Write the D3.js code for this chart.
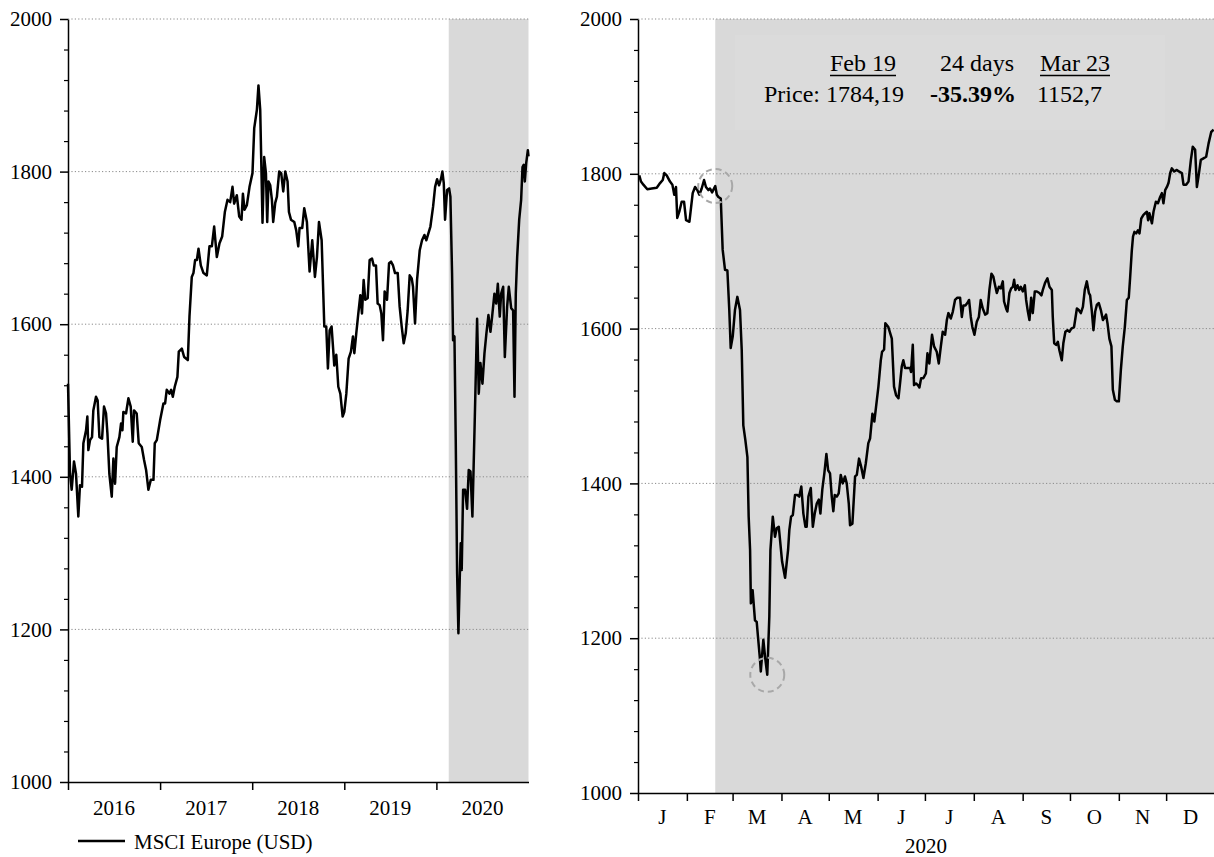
<!DOCTYPE html>
<html><head><meta charset="utf-8">
<script src="https://cdn.jsdelivr.net/npm/d3@7"></script>
<style>
body{margin:0;background:#fff}
svg{display:block}
text{font-family:"Liberation Serif","Times New Roman",serif;fill:#000}
</style>
</head><body>
<svg id="chart" width="1214" height="857"></svg>
<script>
// ---------- DATA ----------
// Left panel: MSCI Europe (USD), x in years since 2016-01-01
const leftYear = [0.000,0.022,0.040,0.065,0.087,0.112,0.130,0.152,0.167,0.196,0.210,0.221,0.239,0.261,0.275,0.304,0.322,0.341,0.370,0.391,0.413,0.428,0.449,0.475,0.493,0.511,0.529,0.558,0.576,0.591,0.601,0.630,0.656,0.681,0.703,0.717,0.746,0.768,0.801,0.826,0.848,0.873,0.899,0.928,0.942,0.964,
1.000,1.036,1.054,1.072,1.101,1.120,1.138,1.159,1.188,1.203,1.236,1.261,1.301,1.319,1.344,1.362,1.380,1.399,1.417,1.442,1.471,1.507,1.536,1.562,1.587,1.616,1.645,1.674,1.703,1.732,1.761,1.786,1.804,1.833,1.859,1.884,1.899,1.917,1.942,1.971,
2.003,2.022,2.051,2.068,2.087,2.112,2.130,2.149,2.163,2.177,2.196,2.214,2.228,2.250,2.268,2.293,2.315,2.337,2.359,2.384,2.399,2.421,2.457,2.478,2.500,2.514,2.543,2.565,2.594,2.623,2.652,2.681,2.703,2.725,2.754,2.783,2.804,2.822,2.841,2.862,2.891,2.913,2.935,2.957,2.982,
3.000,3.022,3.047,3.072,3.094,3.109,3.130,3.152,3.174,3.192,3.210,3.228,3.254,3.275,3.301,3.319,3.344,3.362,3.384,3.402,3.420,3.438,3.464,3.486,3.507,3.529,3.551,3.580,3.601,3.623,3.645,3.667,3.688,3.710,3.732,3.746,3.768,3.790,3.819,3.844,3.870,3.891,3.913,3.935,3.964,3.986,
4.007,4.029,4.051,4.065,4.080,4.094,4.116,4.138,4.152,4.170,4.181,4.196,4.210,4.225,4.239,4.254,4.264,4.275,4.290,4.312,4.333,4.351,4.370,4.391,4.413,4.442,4.460,4.478,4.500,4.522,4.543,4.565,4.587,4.605,4.630,4.649,4.667,4.688,4.703,4.725,4.743,4.768,4.786,4.812,4.833,4.848,4.862,4.877,4.899,4.920,4.935,4.949,4.960,4.975,4.993,5.000];
const leftValue = [1522,1404,1383,1420,1404,1348,1389,1387,1444,1461,1479,1435,1448,1452,1487,1505,1500,1452,1450,1492,1483,1457,1404,1374,1424,1391,1439,1452,1470,1461,1485,1483,1503,1492,1446,1487,1483,1444,1439,1422,1409,1383,1396,1396,1444,1448,
1474,1496,1496,1514,1509,1514,1505,1518,1531,1564,1568,1557,1553,1610,1662,1667,1684,1684,1699,1677,1667,1664,1702,1702,1728,1688,1706,1715,1747,1763,1760,1780,1758,1769,1741,1737,1771,1750,1756,1780,
1798,1857,1881,1913,1881,1733,1819,1798,1734,1787,1782,1763,1734,1759,1767,1800,1798,1774,1800,1787,1747,1737,1734,1723,1702,1726,1726,1752,1734,1669,1710,1662,1688,1734,1710,1597,1597,1542,1592,1597,1546,1560,1518,1509,1479,
1485,1509,1555,1564,1584,1562,1588,1614,1638,1614,1658,1632,1634,1684,1686,1677,1677,1627,1625,1614,1579,1643,1632,1680,1682,1677,1667,1667,1623,1597,1575,1588,1618,1664,1660,1649,1601,1658,1697,1710,1717,1710,1719,1728,1754,1780,
1790,1782,1791,1800,1785,1737,1776,1778,1767,1667,1579,1584,1448,1273,1195,1269,1313,1278,1383,1383,1358,1409,1407,1348,1457,1607,1509,1549,1522,1562,1588,1612,1590,1610,1640,1627,1653,1610,1640,1649,1557,1623,1649,1621,1618,1505,1640,1688,1737,1763,1806,1809,1787,1811,1828,1820];

// Right panel: 2020, x in days since 2020-01-01
const rightDay = [0.8,1.9,3.4,5.9,8.7,11.9,14.0,15.7,16.7,18.2,20.3,21.8,23.0,24.1,24.9,26.2,27.7,29.2,30.5,32.6,34.7,36.2,37.6,38.9,40.4,41.9,43.1,44.6,45.7,47.0,49.0,50.0,51.0,52.5,53.7,55.2,56.7,57.9,58.8,60.1,61.5,63.0,64.7,65.8,66.8,68.1,69.4,70.2,71.1,71.6,72.7,74.2,75.3,76.1,77.4,77.9,79.5,80.6,82.0,83.3,84.0,85.5,86.9,88.0,89.3,91.4,93.3,95.2,96.0,97.1,98.2,99.6,
101.1,102.3,103.6,104.9,106.2,107.0,108.1,109.6,110.9,112.1,113.4,114.7,115.7,116.9,118.2,119.5,120.6,121.8,122.9,123.9,124.8,126.1,127.3,128.6,129.9,131.3,132.4,133.7,134.5,136.0,137.7,138.8,140.2,141.5,143.0,144.5,146.1,147.2,148.7,149.9,151.0,152.5,154.0,154.8,156.1,156.9,158.8,
161.0,162.4,163.7,165.2,166.2,167.3,168.3,169.4,170.9,172.6,173.2,174.3,175.1,176.4,177.5,178.5,179.6,181.0,182.6,183.6,184.8,186.5,187.8,189.5,190.8,192.1,193.3,194.8,195.9,196.9,198.4,199.7,
201.1,202.6,204.3,205.4,206.4,207.7,208.9,210.0,211.1,212.1,213.4,214.9,216.2,217.4,218.7,220.2,221.6,222.9,224.2,225.4,226.5,227.6,228.9,230.1,231.4,232.2,233.5,234.3,235.6,236.7,237.8,238.6,239.4,240.7,241.8,242.8,244.1,245.4,246.2,247.3,248.3,249.4,250.4,251.7,253.0,254.6,255.9,256.8,258.2,259.7,
261.0,262.5,263.1,264.0,265.2,266.3,267.3,268.8,269.8,271.1,272.4,273.7,274.9,276.6,278.4,279.6,280.9,282.2,283.4,284.7,286.0,286.8,287.9,288.9,290.0,291.1,292.3,293.6,294.9,296.1,296.9,297.8,299.0,300.3,301.2,302.5,303.7,305.0,306.3,307.5,308.8,310.1,311.3,312.2,313.2,314.0,314.9,316.0,317.1,318.1,319.2,
320.6,321.7,322.8,323.6,324.4,326.0,327.0,328.5,329.8,331.2,332.3,333.3,334.4,335.5,336.5,337.6,338.6,340.1,341.8,343.1,345.0,346.0,347.7,349.2,350.7,351.9,353.4,354.5,355.5,357.0,358.7,360.4,361.9,363.6,365.1];
const rightValue = [1798,1790,1786,1780,1781,1782,1788,1792,1801,1798,1790,1786,1773,1783,1743,1751,1764,1764,1740,1738,1775,1783,1779,1773,1781,1792,1783,1779,1781,1776,1784.19,1773,1770,1768,1702,1676,1675,1624,1575,1590,1624,1641,1624,1572,1475,1456,1434,1357,1314,1245,1262,1223,1221,1202,1172,1157,1198,1176,1152.7,1228,1314,1357,1331,1342,1344,1299,1278,1314,1340,1357,1359,1385,
1385,1383,1396,1361,1344,1344,1383,1394,1344,1361,1374,1379,1361,1392,1413,1438,1417,1413,1383,1364,1385,1383,1387,1411,1400,1409,1400,1374,1346,1348,1409,1411,1432,1422,1407,1426,1452,1458,1490,1480,1499,1525,1559,1570,1573,1607,1602,
1587,1525,1514,1510,1529,1551,1559,1549,1549,1549,1544,1579,1527,1529,1527,1524,1536,1536,1542,1568,1555,1592,1577,1570,1555,1577,1596,1592,1611,1620,1613,1622,
1637,1640,1640,1615,1630,1630,1633,1637,1615,1602,1592,1609,1615,1637,1626,1618,1620,1650,1671,1667,1656,1646,1654,1652,1661,1635,1626,1622,1646,1652,1654,1663,1650,1656,1650,1654,1648,1656,1637,1622,1611,1640,1620,1648,1648,1646,1643,1650,1659,1665,
1654,1650,1615,1581,1579,1583,1572,1559,1581,1596,1598,1596,1600,1602,1626,1624,1620,1628,1650,1661,1646,1643,1622,1598,1622,1631,1633,1624,1611,1615,1618,1607,1587,1577,1521,1508,1506,1506,1547,1577,1602,1637,1640,1667,1700,1719,1725,1723,1727,1723,1742,
1747,1749,1751,1740,1749,1736,1751,1764,1762,1770,1775,1762,1779,1783,1788,1801,1807,1803,1805,1803,1801,1786,1786,1790,1818,1835,1831,1783,1796,1818,1820,1822,1839,1854,1857];

const yearLabels = ["2016","2017","2018","2019","2020"];
const monthLabels = ["J","F","M","A","M","J","J","A","S","O","N","D"];
const yMajor = [1000,1200,1400,1600,1800,2000];
const yGrid = [1200,1400,1600,1800,2000];
const yMinorStep = 40;
const legendLabel = "MSCI Europe (USD)";
const shadeStartDay = 49;          // Feb 19, 2020
const markDays = [49, 82];         // Feb 19, Mar 23
const markValues = [1784.19, 1152.7];
const annHeader = ["Feb 19", "24 days", "Mar 23"];
const annRow = ["Price: 1784,19", "-35.39%", "1152,7"];
const xTitleRight = "2020";

// ---------- DRAW ----------
const svg = d3.select("#chart");
const SHADE = "#d9d9d9";
const FONT = '"Liberation Serif","Times New Roman",serif';
const dayToDate = d => new Date(Date.UTC(2020,0,1) + d*86400000);

function yAxes(g, y, x0) {
  const ax = g.append("g").attr("transform", `translate(${x0},0)`)
    .call(d3.axisLeft(y).tickValues(yMajor).tickFormat(d3.format("d")).tickSize(8).tickPadding(8).tickSizeOuter(0));
  ax.attr("font-family", FONT).attr("font-size", 21);
  ax.selectAll("text").attr("font-family", FONT).attr("font-size", 21).attr("fill", "#000");
  ax.select(".domain").attr("stroke","#000").attr("stroke-width",1.5);
  ax.selectAll(".tick line").attr("stroke-width",1.5);
  const minor = d3.range(1000,2001,yMinorStep).filter(v => !yMajor.includes(v));
  g.append("g").attr("transform", `translate(${x0},0)`)
    .call(d3.axisLeft(y).tickValues(minor).tickSize(4).tickFormat("").tickSizeOuter(0))
    .call(s => s.select(".domain").remove())
    .selectAll(".tick line").attr("stroke-width",1.2);
}

function grid(g, y, x0, x1) {
  g.selectAll(null).data(yGrid).enter().append("line")
    .attr("x1", x0).attr("x2", x1).attr("y1", d => y(d)).attr("y2", d => y(d))
    .attr("stroke", "#8a8a8a").attr("stroke-width", 1).attr("stroke-dasharray", "1.2,2.2");
}

// ----- Left panel -----
const L = {x0: 68, x1: 528.5, yTop: 19, yBot: 782};
const xL = d3.scaleLinear().domain([2016, 2021]).range([L.x0, L.x1]);
const yL = d3.scaleLinear().domain([1000, 2000]).range([L.yBot, L.yTop]);
const gL = svg.append("g");
const shadeStartYear = 2020 + shadeStartDay/366;
gL.append("rect").attr("x", xL(shadeStartYear)).attr("y", L.yTop)
  .attr("width", xL(2021) - xL(shadeStartYear)).attr("height", L.yBot - L.yTop).attr("fill", SHADE);
grid(gL, yL, L.x0, L.x1);
const lineL = d3.line().x((d,i) => xL(2016 + leftYear[i])).y((d,i) => yL(leftValue[i]));
gL.append("path").datum(leftValue).attr("d", lineL).attr("fill","none")
  .attr("stroke","#000").attr("stroke-width",2.5).attr("stroke-linejoin","round");
yAxes(gL, yL, L.x0);
const axL = gL.append("g").attr("transform", `translate(0,${L.yBot})`)
  .call(d3.axisBottom(xL).tickValues(yearLabels.map(Number)).tickFormat("").tickSize(8).tickSizeOuter(0));
axL.select(".domain").attr("stroke-width",1.5);
axL.selectAll(".tick line").attr("stroke-width",1.5);
gL.selectAll(null).data(yearLabels).enter().append("text")
  .attr("x", d => xL(+d + 0.5)).attr("y", 815).attr("text-anchor","middle")
  .attr("font-family", FONT).attr("font-size", 21).text(d => d);
// legend
gL.append("line").attr("x1",78).attr("x2",125).attr("y1",841).attr("y2",841)
  .attr("stroke","#000").attr("stroke-width",2.6);
gL.append("text").attr("x",134).attr("y",849).attr("font-family", FONT).attr("font-size", 21).text(legendLabel);

// ----- Right panel -----
const R = {x0: 638, x1: 1215, yTop: 19, yBot: 793};
const xR = d3.scaleUtc().domain([new Date(Date.UTC(2020,0,1)), new Date(Date.UTC(2021,0,1))]).range([R.x0, R.x1]);
const yR = d3.scaleLinear().domain([1000, 2000]).range([R.yBot, R.yTop]);
const gR = svg.append("g");
gR.append("rect").attr("x", xR(dayToDate(shadeStartDay))).attr("y", R.yTop)
  .attr("width", R.x1 - xR(dayToDate(shadeStartDay))).attr("height", R.yBot - R.yTop).attr("fill", SHADE);
// annotation box (very faint)
gR.append("rect").attr("x", 735).attr("y", 35).attr("width", 430).attr("height", 95).attr("fill", "#dbdbdb");
grid(gR, yR, R.x0, R.x1);
const lineR = d3.line().x((d,i) => xR(dayToDate(rightDay[i]))).y((d,i) => yR(rightValue[i]));
gR.append("path").datum(rightValue).attr("d", lineR).attr("fill","none")
  .attr("stroke","#000").attr("stroke-width",2.5).attr("stroke-linejoin","round");
// dashed circles
gR.selectAll(null).data(markDays).enter().append("circle")
  .attr("cx", d => xR(dayToDate(d))).attr("cy", (d,i) => yR(markValues[i])).attr("r", 17)
  .attr("fill","none").attr("stroke","#a8a8a8").attr("stroke-width",2).attr("stroke-dasharray","6,4");
yAxes(gR, yR, R.x0);
const months = d3.utcMonth.range(new Date(Date.UTC(2020,0,1)), new Date(Date.UTC(2021,0,1)));
const axR = gR.append("g").attr("transform", `translate(0,${R.yBot})`)
  .call(d3.axisBottom(xR).tickValues(months).tickFormat("").tickSize(8).tickSizeOuter(0));
axR.select(".domain").attr("stroke-width",1.5);
axR.selectAll(".tick line").attr("stroke-width",1.5);
gR.selectAll(null).data(months).enter().append("text")
  .attr("x", d => (xR(d) + xR(d3.utcMonth.offset(d,1)))/2).attr("y", 824).attr("text-anchor","middle")
  .attr("font-family", FONT).attr("font-size", 21).text((d,i) => monthLabels[i]);
gR.append("text").attr("x", (R.x0 + 1214)/2).attr("y", 853).attr("text-anchor","middle")
  .attr("font-family", FONT).attr("font-size", 21).text(xTitleRight);

// annotation texts
const annX = [863, 977, 1075];
annHeader.forEach((t,i) => {
  const tx = gR.append("text").attr("x", annX[i]).attr("y", 71).attr("text-anchor","middle")
    .attr("font-family", FONT).attr("font-size", 24).text(t);
  if (i !== 1) {
    const w = tx.node().getComputedTextLength();
    gR.append("line").attr("x1", annX[i]-w/2).attr("x2", annX[i]+w/2).attr("y1",75.5).attr("y2",75.5)
      .attr("stroke","#000").attr("stroke-width",1.3);
  }
});
gR.append("text").attr("x", 904).attr("y", 102).attr("text-anchor","end").attr("font-family", FONT).attr("font-size", 24).text(annRow[0]);
gR.append("text").attr("x", 973).attr("y", 102).attr("text-anchor","middle").attr("font-family", FONT).attr("font-size", 24)
  .attr("font-weight","bold").text(annRow[1]);
gR.append("text").attr("x", 1037).attr("y", 102).attr("text-anchor","start").attr("font-family", FONT).attr("font-size", 24).text(annRow[2]);
</script>
</body></html>
